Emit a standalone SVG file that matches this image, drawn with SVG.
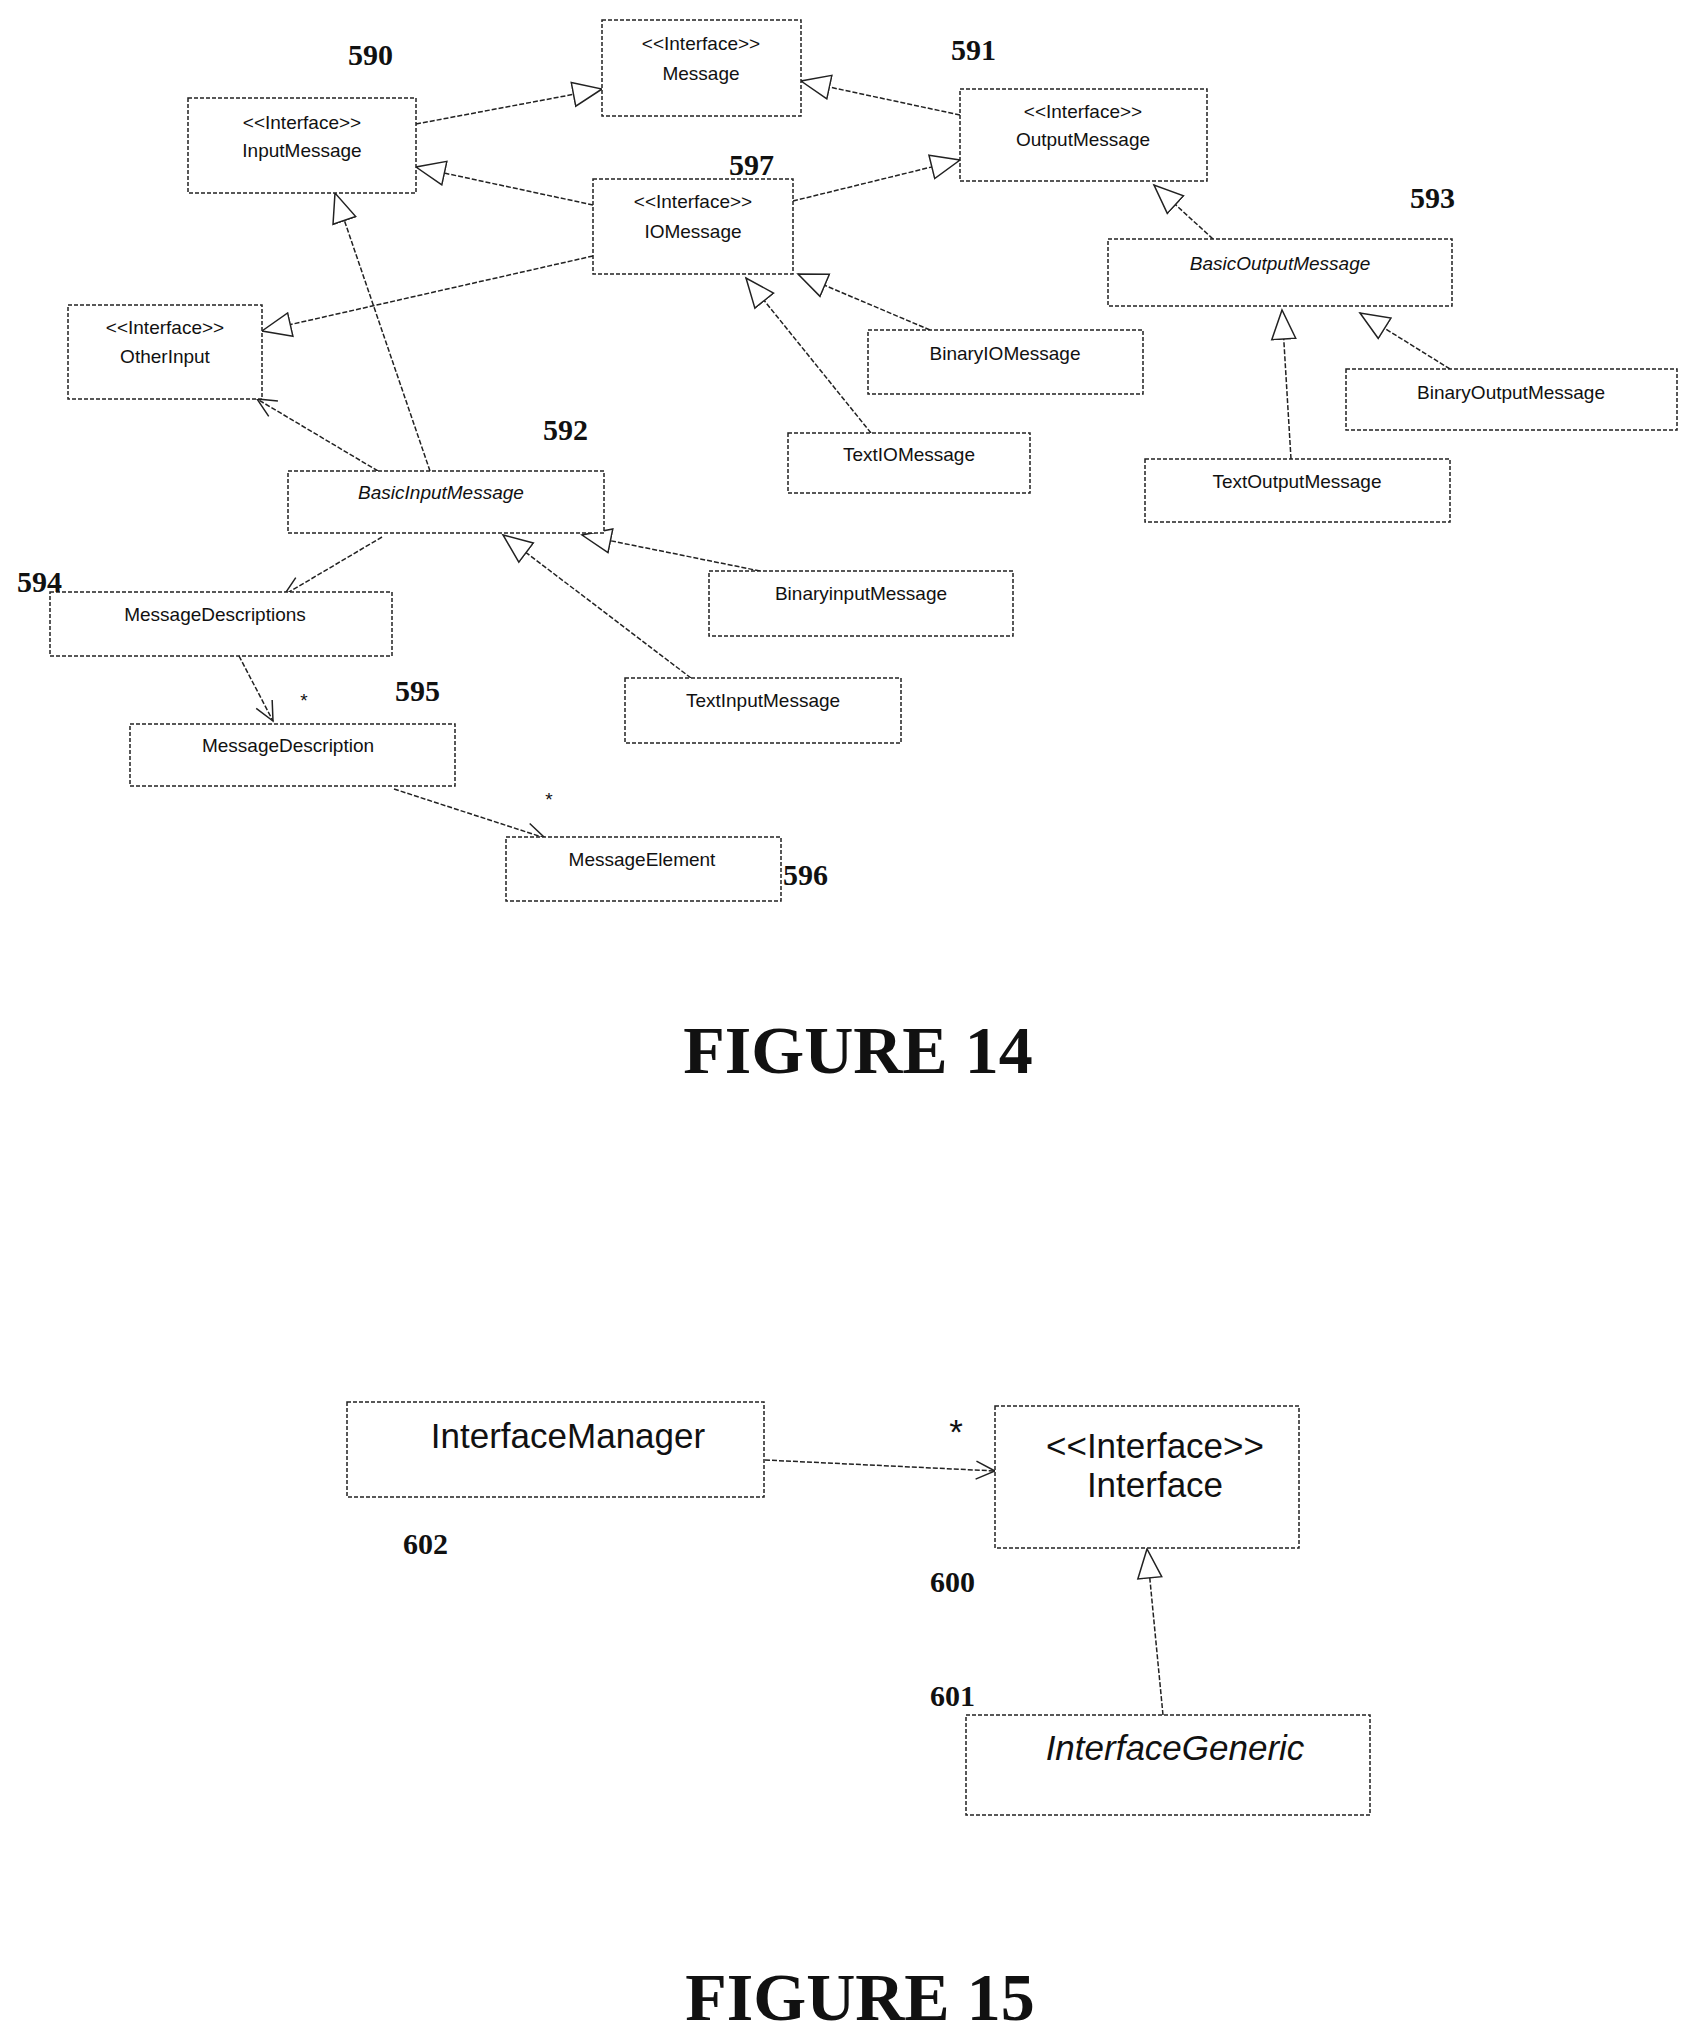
<svg xmlns="http://www.w3.org/2000/svg" width="1695" height="2039" viewBox="0 0 1695 2039">
<style>
.b{fill:#fff;stroke:#222;stroke-width:1.5;stroke-dasharray:4,2}
.t{font-family:"Liberation Sans",Arial,sans-serif;font-size:19px;text-anchor:middle;fill:#111}
.i{font-style:italic}
.L{font-family:"Liberation Serif","Times New Roman",serif;font-weight:bold;font-size:30px;fill:#111}
.F{font-family:"Liberation Serif","Times New Roman",serif;font-weight:bold;font-size:68px;text-anchor:middle;fill:#111}
.c line{stroke:#222;stroke-width:1.5;stroke-dasharray:5,2}
.g{marker-end:url(#tri)}
.o{marker-end:url(#open)}
.T{font-family:"Liberation Sans",Arial,sans-serif;font-size:35px;text-anchor:middle;fill:#111}
</style>
<defs>
<marker id="tri" markerUnits="userSpaceOnUse" markerWidth="34" markerHeight="30" refX="30" refY="13" orient="auto" viewBox="0 0 34 26">
<path d="M1,1 L30,13 L1,25 Z" fill="#fff" stroke="#222" stroke-width="1.5"/>
</marker>
<marker id="open" markerUnits="userSpaceOnUse" markerWidth="24" markerHeight="24" refX="20" refY="10" orient="auto" viewBox="0 0 24 20">
<path d="M1,1 L20,10 L1,19" fill="none" stroke="#222" stroke-width="1.5"/>
</marker>
</defs>
<g class="c" id="connectors">
<line class="g" x1="416" y1="124" x2="602" y2="89"/>
<line class="g" x1="960" y1="115" x2="801" y2="81"/>
<line class="g" x1="593" y1="205" x2="416" y2="167"/>
<line class="g" x1="793" y1="201" x2="960" y2="160"/>
<line class="g" x1="593" y1="256" x2="262" y2="331"/>
<line class="g" x1="430" y1="471" x2="335" y2="193"/>
<line class="o" x1="378" y1="471" x2="257" y2="399"/>
<line class="g" x1="930" y1="330" x2="798" y2="274"/>
<line class="g" x1="871" y1="433" x2="746" y2="278"/>
<line class="g" x1="1213" y1="239" x2="1154" y2="185"/>
<line class="g" x1="1291" y1="459" x2="1282" y2="310"/>
<line class="g" x1="1450" y1="369" x2="1360" y2="313"/>
<line class="g" x1="760" y1="571" x2="582" y2="535"/>
<line class="g" x1="691" y1="678" x2="503" y2="535"/>
<line class="o" x1="382" y1="537" x2="284" y2="595"/>
<line class="o" x1="239" y1="656" x2="273" y2="721"/>
<line class="o" x1="394" y1="789" x2="545" y2="838"/>
<line class="o" x1="765" y1="1460" x2="995" y2="1471"/>
<line class="g" x1="1163" y1="1715" x2="1147" y2="1549"/>
</g>
<g id="n-message"><rect class="b" x="602" y="20" width="199" height="96"/><text class="t" x="701" y="50">&lt;&lt;Interface&gt;&gt;</text><text class="t" x="701" y="80">Message</text></g>
<g id="n-input"><rect class="b" x="188" y="98" width="228" height="95"/><text class="t" x="302" y="129">&lt;&lt;Interface&gt;&gt;</text><text class="t" x="302" y="157">InputMessage</text></g>
<g id="n-output"><rect class="b" x="960" y="89" width="247" height="92"/><text class="t" x="1083" y="118">&lt;&lt;Interface&gt;&gt;</text><text class="t" x="1083" y="146">OutputMessage</text></g>
<g id="n-io"><rect class="b" x="593" y="179" width="200" height="95"/><text class="t" x="693" y="208">&lt;&lt;Interface&gt;&gt;</text><text class="t" x="693" y="238">IOMessage</text></g>
<g id="n-other"><rect class="b" x="68" y="305" width="194" height="94"/><text class="t" x="165" y="334">&lt;&lt;Interface&gt;&gt;</text><text class="t" x="165" y="363">OtherInput</text></g>
<g id="n-basicout"><rect class="b" x="1108" y="239" width="344" height="67"/><text class="t i" x="1280" y="270">BasicOutputMessage</text></g>
<g id="n-binio"><rect class="b" x="868" y="330" width="275" height="64"/><text class="t" x="1005" y="360">BinaryIOMessage</text></g>
<g id="n-textio"><rect class="b" x="788" y="433" width="242" height="60"/><text class="t" x="909" y="461">TextIOMessage</text></g>
<g id="n-binout"><rect class="b" x="1346" y="369" width="331" height="61"/><text class="t" x="1511" y="399">BinaryOutputMessage</text></g>
<g id="n-textout"><rect class="b" x="1145" y="459" width="305" height="63"/><text class="t" x="1297" y="488">TextOutputMessage</text></g>
<g id="n-basicin"><rect class="b" x="288" y="471" width="316" height="62"/><text class="t i" x="441" y="499">BasicInputMessage</text></g>
<g id="n-descs"><rect class="b" x="50" y="592" width="342" height="64"/><text class="t" x="215" y="621">MessageDescriptions</text></g>
<g id="n-binin"><rect class="b" x="709" y="571" width="304" height="65"/><text class="t" x="861" y="600">BinaryinputMessage</text></g>
<g id="n-textin"><rect class="b" x="625" y="678" width="276" height="65"/><text class="t" x="763" y="707">TextInputMessage</text></g>
<g id="n-desc"><rect class="b" x="130" y="724" width="325" height="62"/><text class="t" x="288" y="752">MessageDescription</text></g>
<g id="n-elem"><rect class="b" x="506" y="837" width="275" height="64"/><text class="t" x="642" y="866">MessageElement</text></g>
<g id="labels14">
<text class="L" x="348" y="65">590</text>
<text class="L" x="951" y="60">591</text>
<text class="L" x="729" y="175">597</text>
<text class="L" x="1410" y="208">593</text>
<text class="L" x="543" y="440">592</text>
<text class="L" x="17" y="592">594</text>
<text class="L" x="395" y="701">595</text>
<text class="L" x="783" y="885">596</text>
<text class="t" x="304" y="707">*</text>
<text class="t" x="549" y="806">*</text>
<text class="F" x="858" y="1073">FIGURE 14</text>
</g>
<g id="n-mgr"><rect class="b" x="347" y="1402" width="417" height="95"/><text class="T" x="568" y="1448">InterfaceManager</text></g>
<g id="n-iface"><rect class="b" x="995" y="1406" width="304" height="142"/><text class="T" x="1155" y="1458">&lt;&lt;Interface&gt;&gt;</text><text class="T" x="1155" y="1497">Interface</text></g>
<g id="n-generic"><rect class="b" x="966" y="1715" width="404" height="100"/><text class="T" x="1175" y="1760" font-style="italic">InterfaceGeneric</text></g>
<g id="labels15">
<text class="L" x="403" y="1554" font-size="46">602</text>
<text class="L" x="930" y="1592" font-size="46">600</text>
<text class="L" x="930" y="1706" font-size="46">601</text>
<text class="T" x="956" y="1444">*</text>
<text class="F" x="860" y="2020">FIGURE 15</text>
</g>
</svg>
